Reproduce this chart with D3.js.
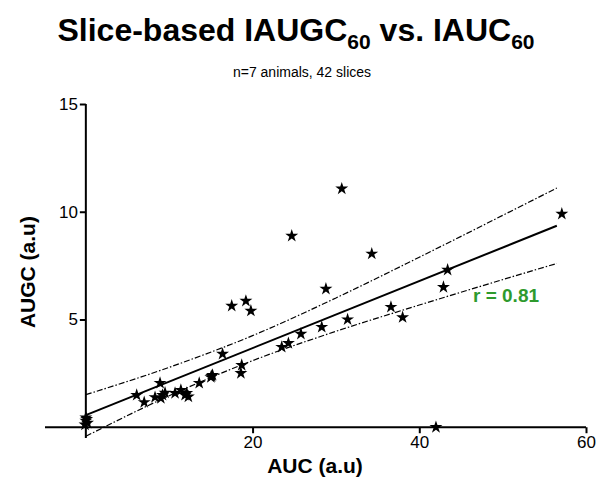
<!DOCTYPE html>
<html>
<head>
<meta charset="utf-8">
<script src="https://cdn.jsdelivr.net/npm/d3@7"></script>
<style>
  html, body { margin: 0; padding: 0; background: #fff; }
  svg text { font-family: "Liberation Sans", Arial, Helvetica, sans-serif; }
</style>
</head>
<body>
<svg id="chart" width="602" height="491"></svg>
<script>
// ---- data ----
const aucValues = [0, 0, 0.2, -0.1, 0.1,
  6.1, 7.0, 8.3, 8.9, 9.2, 9.5, 9.0,
  10.7, 11.4, 11.9, 12.1, 12.3,
  13.6, 15.1, 15.2, 15.0, 16.4, 18.6, 18.7,
  17.5, 19.2, 19.8,
  23.5, 24.3, 25.8, 28.3, 31.4,
  24.7, 28.8, 30.7, 34.3,
  36.6, 38.0, 42.9, 43.4, 57.1, 42.0];
const augcValues = [0.45, 0.3, 0.2, 0.12, 0.38,
  1.49, 1.16, 1.39, 2.05, 1.49, 1.6, 1.35,
  1.58, 1.72, 1.49, 1.58, 1.42,
  2.05, 2.37, 2.42, 2.32, 3.4, 2.51, 2.88,
  5.63, 5.86, 5.4,
  3.72, 3.9, 4.33, 4.65, 5.0,
  8.88, 6.42, 11.07, 8.05,
  5.58, 5.1, 6.5, 7.3, 9.9, 0.0];
const fitX = [0, 56.5];
const fitY = [0.56, 9.35];
const bandX = [0, 10, 20, 30, 40, 50, 56.5];
const bandUpper = [1.51, 2.78, 4.25, 6.0, 7.89, 9.83, 11.1];
const bandLower = [-0.42, 1.46, 3.09, 4.45, 5.67, 6.85, 7.6];
const xTicks = [20, 40, 60];
const yTicks = [5, 10, 15];
const titleMain = "Slice-based IAUGC";
const titleMid = " vs. IAUC";
const titleSub = "60";
const subtitle = "n=7 animals, 42 slices";
const xTitle = "AUC (a.u)";
const yTitle = "AUGC (a.u)";
const rLabel = "r = 0.81";

// ---- layout ----
const svg = d3.select("#chart");
const x = d3.scaleLinear().domain([-4.9, 60]).range([45, 586]);
const y = d3.scaleLinear().domain([-0.5, 15]).range([438, 104]);

// title
const title = svg.append("text")
  .attr("x", 296).attr("y", 41)
  .attr("text-anchor", "middle")
  .style("font-weight", "bold").style("font-size", "32px").attr("fill", "#000");
title.append("tspan").text(titleMain);
title.append("tspan").attr("dy", 8).style("font-size", "21px").text(titleSub);
title.append("tspan").attr("dy", -8).text(titleMid);
title.append("tspan").attr("dy", 8).style("font-size", "21px").text(titleSub);

svg.append("text").attr("x", 302).attr("y", 77).attr("text-anchor", "middle")
  .style("font-size", "14px").attr("fill", "#000").text(subtitle);

// axes
const xAxis = d3.axisBottom(x).tickValues(xTicks).tickSize(6).tickPadding(3).tickSizeOuter(0);
const gx = svg.append("g").attr("transform", `translate(0,${y(0)})`).call(xAxis);
gx.select(".domain").attr("stroke-width", 2).attr("d", `M${x(-4.9)},0H${x(60)}`);
gx.selectAll(".tick line").attr("stroke-width", 2);
gx.selectAll(".tick text").style("font-size", "17px").attr("fill", "#000");

const yAxis = d3.axisLeft(y).tickValues(yTicks).tickSize(6).tickPadding(2).tickSizeOuter(0);
const gy = svg.append("g").attr("transform", `translate(${x(0)},0)`).call(yAxis);
gy.select(".domain").attr("stroke-width", 2).attr("d", `M0,${y(15)}V${y(-0.5)}`);
gy.selectAll(".tick line").attr("stroke-width", 2);
gy.selectAll(".tick text").style("font-size", "17px").attr("fill", "#000");

svg.append("text").attr("x", 315).attr("y", 473).attr("text-anchor", "middle")
  .style("font-weight", "bold").style("font-size", "21px").text(xTitle);
svg.append("text").attr("transform", `translate(35,${y(7.2)}) rotate(-90)`)
  .attr("text-anchor", "middle")
  .style("font-weight", "bold").style("font-size", "21px").text(yTitle);

// confidence bands
const bandLine = d3.line().curve(d3.curveMonotoneX).x(d => x(d[0])).y(d => y(d[1]));
[bandUpper, bandLower].forEach(arr => {
  svg.append("path")
    .attr("d", bandLine(bandX.map((v, i) => [v, arr[i]])))
    .attr("fill", "none").attr("stroke", "#000").attr("stroke-width", 1.2)
    .attr("stroke-dasharray", "6,2,1.5,2");
});

// fit line
svg.append("path")
  .attr("d", d3.line().x(d => x(d[0])).y(d => y(d[1]))(fitX.map((v, i) => [v, fitY[i]])))
  .attr("fill", "none").attr("stroke", "#000").attr("stroke-width", 2);

// points
const star = d3.symbol().type(d3.symbolStar).size(52);
svg.append("g").selectAll("path").data(aucValues.map((v, i) => [v, augcValues[i]]))
  .join("path")
  .attr("transform", d => `translate(${x(d[0])},${y(d[1])})`)
  .attr("d", star).attr("fill", "#000");

// r label
svg.append("text").attr("x", 473).attr("y", 302)
  .style("font-weight", "bold").style("font-size", "19px").attr("fill", "#2e9a2e").text(rLabel);
</script>
</body>
</html>
